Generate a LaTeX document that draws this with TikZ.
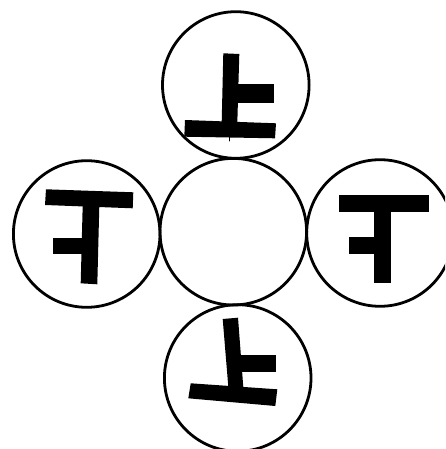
\documentclass[tikz,border=0pt]{standalone}
\tikzset{
  ring/.style={circle, draw, line width=2.8pt, minimum size=146.6pt, inner sep=0pt},
  stroke/.style={fill=black, draw=none}
}
\begin{document}
\begin{tikzpicture}[x=1pt, y=-1pt, line cap=round, line join=round]
    % 画布大小
    \useasboundingbox (0,0) rectangle (445,449);
    \clip (0,0) rectangle (445,449);

    % 五个圆
    \node[ring] (mid)   at (233.3,231.7) {};
    \node[ring] (up)    at (235.8,85)    {};
    \node[ring] (left)  at (86.7,234)    {};
    \node[ring] (right) at (380,233)     {};
    \node[ring] (down)  at (237.7,378)   {};

    % 上面的字
    \fill[stroke] (223.3,53.3) -- (239.3,54) -- (237.3,123) -- (221.7,122) -- cycle;
    \fill[stroke] (237,84) rectangle (274,102.7);
    \fill[stroke] (185,120) -- (276,123.3) -- (275,138.3) -- (184.3,136.7) -- cycle;
    \draw[line width=1pt] (229,137) -- (229,141);

    % 左边的字
    \fill[stroke] (46,189.3) -- (133.3,192.3) -- (132.7,208.3) -- (45,205) -- cycle;
    \fill[stroke] (82.7,205) -- (99.3,206) -- (97.3,284.3) -- (80.7,283.3) -- cycle;
    \fill[stroke] (53.3,237.7) rectangle (83,254.3);

    % 右边的字
    \fill[stroke] (339.3,195) rectangle (429.3,211.7);
    \fill[stroke] (374,211) rectangle (390.7,282.7);
    \fill[stroke] (349.3,236.7) rectangle (374.5,254);

    % 下面的字
    \fill[stroke] (222.7,319) -- (238,317.7) -- (243.3,387.3) -- (228.3,386.7) -- cycle;
    \fill[stroke] (240,355) rectangle (276,371.7);
    \fill[stroke] (190.7,383.3) -- (277.3,389.3) -- (275.3,406) -- (188.3,398.3) -- cycle;
\end{tikzpicture}
\end{document}
